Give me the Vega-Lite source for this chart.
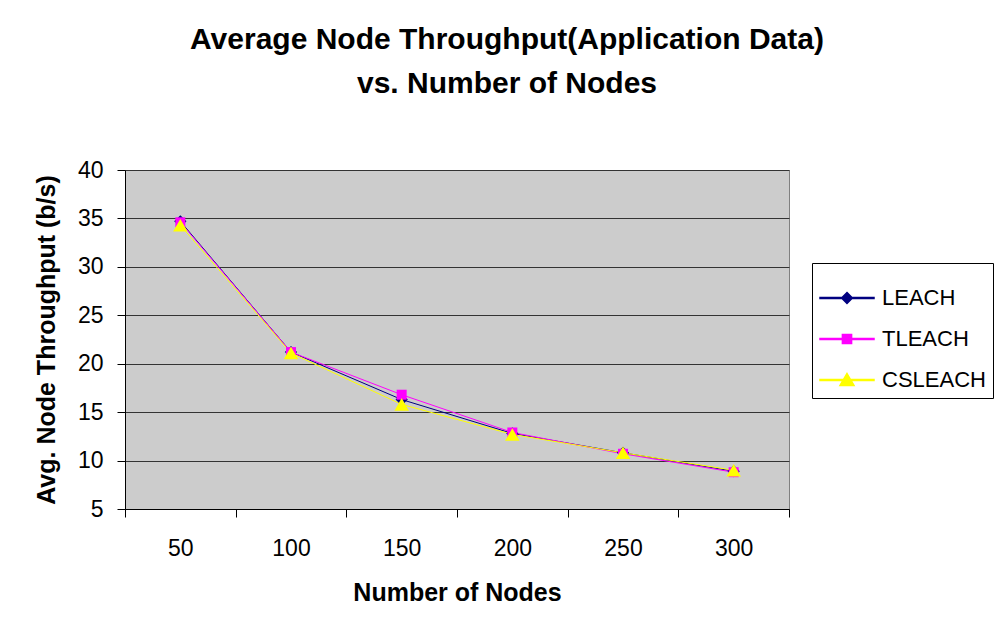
{
  "$schema": "https://vega.github.io/schema/vega-lite/v6.json",
  "width": 664,
  "height": 339,
  "autosize": {"type": "none"},
  "padding": {"left": 125, "top": 170, "right": 216, "bottom": 127},
  "background": "white",
  "title": {
    "text": ["Average Node Throughput(Application Data)", "vs. Number of Nodes"],
    "anchor": "middle",
    "frame": "group",
    "dx": 50,
    "offset": 60,
    "font": "Liberation Sans",
    "fontSize": 30,
    "fontWeight": "bold",
    "lineHeight": 44,
    "color": "black"
  },
  "data": {
    "values": [
      {"series": "LEACH", "nodes": 50, "value": 34.7},
      {"series": "LEACH", "nodes": 100, "value": 21.2},
      {"series": "LEACH", "nodes": 150, "value": 16.3},
      {"series": "LEACH", "nodes": 200, "value": 12.8},
      {"series": "LEACH", "nodes": 250, "value": 10.8},
      {"series": "LEACH", "nodes": 300, "value": 8.9},
      {"series": "TLEACH", "nodes": 50, "value": 34.6},
      {"series": "TLEACH", "nodes": 100, "value": 21.2},
      {"series": "TLEACH", "nodes": 150, "value": 16.8},
      {"series": "TLEACH", "nodes": 200, "value": 12.9},
      {"series": "TLEACH", "nodes": 250, "value": 10.7},
      {"series": "TLEACH", "nodes": 300, "value": 8.8},
      {"series": "CSLEACH", "nodes": 50, "value": 34.3},
      {"series": "CSLEACH", "nodes": 100, "value": 21.1},
      {"series": "CSLEACH", "nodes": 150, "value": 15.8},
      {"series": "CSLEACH", "nodes": 200, "value": 12.7},
      {"series": "CSLEACH", "nodes": 250, "value": 10.8},
      {"series": "CSLEACH", "nodes": 300, "value": 9.0}
    ]
  },
  "config": {
    "view": {"fill": "#cccccc", "stroke": "#808080", "strokeWidth": 1},
    "font": "Liberation Sans"
  },
  "encoding": {
    "x": {
      "field": "nodes",
      "type": "ordinal",
      "scale": {"type": "band", "paddingInner": 0, "paddingOuter": 0},
      "axis": {
        "title": "Number of Nodes",
        "titleFont": "Liberation Sans",
        "titleFontSize": 25,
        "titleFontWeight": "bold",
        "titleColor": "black",
        "titlePadding": 20,
        "labelAngle": 0,
        "labelFont": "Liberation Sans",
        "labelFontSize": 23,
        "labelColor": "black",
        "labelPadding": 20,
        "tickBand": "extent",
        "tickSize": 8,
        "tickColor": "black",
        "domainColor": "black",
        "grid": false
      }
    },
    "y": {
      "field": "value",
      "type": "quantitative",
      "scale": {"domain": [5, 40], "nice": false, "zero": false},
      "axis": {
        "title": "Avg. Node Throughput (b/s)",
        "titleFont": "Liberation Sans",
        "titleFontSize": 25,
        "titleFontWeight": "bold",
        "titleColor": "black",
        "titlePadding": 18,
        "values": [5, 10, 15, 20, 25, 30, 35, 40],
        "labelFont": "Liberation Sans",
        "labelFontSize": 23,
        "labelColor": "black",
        "labelPadding": 14,
        "tickSize": 8,
        "tickColor": "black",
        "domainColor": "black",
        "grid": true,
        "gridColor": "#333333",
        "gridWidth": 1.2
      }
    }
  },
  "layer": [
    {
      "mark": {"type": "point", "filled": true, "opacity": 0},
      "encoding": {
        "color": {
          "field": "series",
          "type": "nominal",
          "sort": ["LEACH", "TLEACH", "CSLEACH"],
          "scale": {"domain": ["LEACH", "TLEACH", "CSLEACH"], "range": ["#000080", "#ff00ff", "#ffff00"]},
          "legend": {
            "title": null,
            "orient": "none",
            "legendX": 687,
            "legendY": 93,
            "fillColor": "white",
            "strokeColor": "black",
            "padding": 7,
            "labelFont": "Liberation Sans",
            "labelFontSize": 22,
            "labelColor": "black",
            "labelOffset": 7,
            "symbolSize": 2916,
            "symbolOpacity": 1,
            "rowPadding": 2
          }
        },
        "shape": {
          "field": "series",
          "type": "nominal",
          "sort": ["LEACH", "TLEACH", "CSLEACH"],
          "scale": {
            "domain": ["LEACH", "TLEACH", "CSLEACH"],
            "range": [
              "M-1,-0.02H1V0.02H-1Z M0,-0.2L0.2,0L0,0.2L-0.2,0Z",
              "M-1,-0.02H1V0.02H-1Z M-0.17,-0.17H0.17V0.17H-0.17Z",
              "M-1,-0.02H1V0.02H-1Z M0,-0.24L0.26,0.2H-0.26Z"
            ]
          },
          "legend": {
            "title": null,
            "orient": "none",
            "legendX": 687,
            "legendY": 93,
            "symbolSize": 2916,
            "symbolOpacity": 1
          }
        }
      }
    },
    {
      "mark": {"type": "line", "strokeWidth": 1},
      "encoding": {"color": {"field": "series", "type": "nominal", "legend": null}}
    },
    {
      "transform": [{"filter": "datum.series === 'LEACH'"}],
      "mark": {"type": "point", "filled": true, "opacity": 1, "shape": "diamond", "size": 150},
      "encoding": {"color": {"field": "series", "type": "nominal", "legend": null}}
    },
    {
      "transform": [{"filter": "datum.series === 'TLEACH'"}],
      "mark": {"type": "point", "filled": true, "opacity": 1, "shape": "square", "size": 100},
      "encoding": {"color": {"field": "series", "type": "nominal", "legend": null}}
    },
    {
      "transform": [{"filter": "datum.series === 'CSLEACH'"}],
      "mark": {"type": "point", "filled": true, "opacity": 1, "shape": "triangle-up", "size": 210},
      "encoding": {"color": {"field": "series", "type": "nominal", "legend": null}}
    }
  ]
}
